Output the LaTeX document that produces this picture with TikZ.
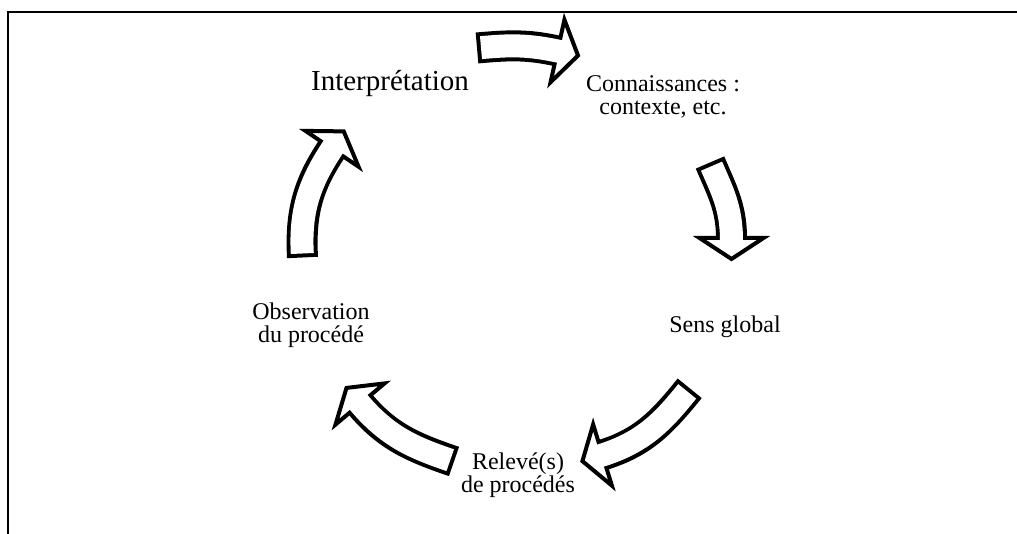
\documentclass[tikz,border=0pt]{standalone}
\usepackage{fontspec}
\setmainfont{Liberation Serif}
\usetikzlibrary{decorations.markings}

\begin{document}
\begin{tikzpicture}[x=1pt, y=1pt, inner sep=0pt,
  txt/.style = {align=center, anchor=base, font=\fontsize{24}{23.5}\selectfont},
  cyc/.style = {line width=31pt, draw=black,
    postaction = {decorate, decoration={markings, mark=at position 1 with
      {\draw[line width=4pt, fill=white] (0pt,32pt) -- (21pt,0pt) -- (0pt,-32pt) -- cycle;}}},
    postaction = {draw=white, line width=23pt, shorten <=4pt, shorten >=-3pt}}]
\useasboundingbox (0,0) rectangle (1017,534);
\draw[line width=1.5pt] (8,0) -- (8,522) -- (1017,522);

% labels of the cycle (base = last line)
\node[txt, font=\fontsize{29}{33}\selectfont] (interp) at (390,443) {Interprétation};
\node[txt] (conn) at (663,419) {Connaissances :\\contexte, etc.};
\node[txt] (sens) at (725,201) {Sens global};
\node[txt] (releve) at (518,41) {Relevé(s)\\de procédés};
\node[txt] (obs) at (311,191) {Observation\\du procédé};

% ends of the block arrows
\coordinate (s1) at (477,486);   \coordinate (e1) at (557.5,483);
\coordinate (s2) at (710,371.5); \coordinate (e2) at (731.5,296);
\coordinate (s3) at (689.7,145.7); \coordinate (e3) at (602.5,79);
\coordinate (s4) at (454,72.5);  \coordinate (e4) at (360,130);
\coordinate (s5) at (302.5,276.5); \coordinate (e5) at (332,385.2);

\draw[cyc] (s1) to[out=5, in=167.5] (e1);
\draw[cyc] (s2) to[out=-67, in=90] (e2);
\draw[cyc] (s3) to[out=-129, in=17] (e3);
\draw[cyc] (s4) to[out=161, in=-50] (e4);
\draw[cyc] (s5) to[out=93, in=-124] (e5);
\end{tikzpicture}
\end{document}
